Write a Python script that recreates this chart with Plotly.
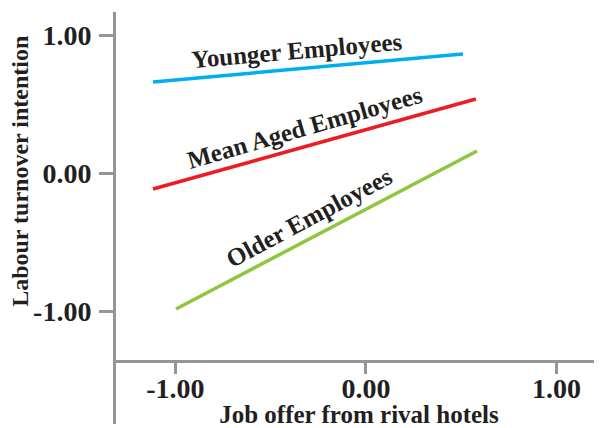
import plotly.graph_objects as go

# Data
series_names = ["Younger Employees", "Mean Aged Employees", "Older Employees"]
series_colors = ["#00aeef", "#ed1c24", "#8dc63f"]
x_start = [-1.118, -1.118, -0.997]
x_end = [0.509, 0.577, 0.583]
y_start = [0.662, -0.114, -0.983]
y_end = [0.864, 0.538, 0.162]

tick_vals = [-1, 0, 1]
tick_text = ["-1.00", "0.00", "1.00"]

label_x = [-0.362, -0.325, -0.299]
label_y = [0.893, 0.335, -0.317]
label_angle = [-5, -16, -28]

x_title = "Job offer from rival hotels"
y_title = "Labour turnover intention"

# page body has an 8px default margin, so the figure is 8px smaller
W, H = 594, 420
axis_gray = "#939598"
text_col = "#231f20"
serif = "Liberation Serif"

fig = go.Figure()
for i, name in enumerate(series_names):
    fig.add_trace(go.Scatter(
        x=[x_start[i], x_end[i]], y=[y_start[i], y_end[i]],
        mode="lines", name=name,
        line=dict(color=series_colors[i], width=3.5),
        showlegend=False, hoverinfo="skip",
    ))
    fig.add_annotation(
        x=label_x[i], y=label_y[i], xref="x", yref="y",
        text=name, showarrow=False, textangle=label_angle[i],
        font=dict(family=serif, size=25, color=text_col, weight="bold"),
    )

# y-axis title (placed off-centre, as in the reference)
fig.add_annotation(
    x=-0.1975, y=0.612, xref="paper", yref="paper",
    xanchor="center", yanchor="middle",
    text=y_title, showarrow=False, textangle=-90,
    font=dict(family=serif, size=24, color=text_col, weight="bold"),
)

fig.update_layout(
    width=W, height=H,
    margin=dict(l=108, r=0, t=4, b=4),
    paper_bgcolor="white", plot_bgcolor="white",
    showlegend=False,
)
fig.update_xaxes(
    range=[-1.312, 1.239],
    anchor="free", position=0.153, automargin=False,
    showline=True, linecolor=axis_gray, linewidth=3,
    showgrid=False, zeroline=False,
    ticks="outside", ticklen=11, tickwidth=3, tickcolor=axis_gray,
    ticklabelstandoff=-10,
    tickvals=tick_vals, ticktext=tick_text,
    tickfont=dict(family=serif, size=28, color=text_col, weight="bold"),
    title=dict(text=x_title, standoff=4,
               font=dict(family=serif, size=25, color=text_col, weight="bold")),
)
fig.update_yaxes(
    range=[-1.817, 1.169], automargin=False,
    showline=True, linecolor=axis_gray, linewidth=3,
    showgrid=False, zeroline=False,
    ticks="outside", ticklen=14, tickwidth=3, tickcolor=axis_gray,
    ticklabelstandoff=2,
    tickvals=tick_vals, ticktext=tick_text,
    tickfont=dict(family=serif, size=28, color=text_col, weight="bold"),
)

fig.write_html("out.html")
